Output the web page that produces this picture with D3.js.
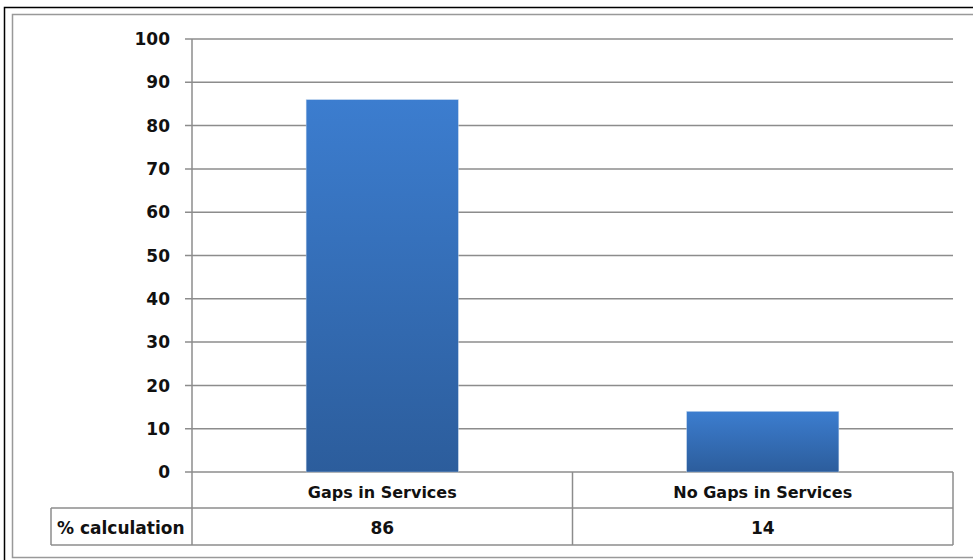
<!DOCTYPE html>
<html><head><meta charset="utf-8">
<script src="https://cdn.jsdelivr.net/npm/d3@7"></script>
<style>body{margin:0;background:#fff}</style>
</head><body>
<script>
const categories = ["Gaps in Services", "No Gaps in Services"];
const values = [86, 14];
const rowLabel = "% calculation";
const yTicks = [0,10,20,30,40,50,60,70,80,90,100];

(function(){
const W = 973, H = 560;
const svg = d3.select("body").append("svg").attr("width", W).attr("height", H);
const FONT = "DejaVu Sans, Verdana, sans-serif";

// outer borders (cropped at right edge as in reference)
svg.append("rect").attr("x",4.5).attr("y",7.5).attr("width",1000).attr("height",600).attr("fill","none").attr("stroke","#000").attr("stroke-width",1.5);
svg.append("rect").attr("x",12.5).attr("y",14.5).attr("width",1000).attr("height",543).attr("fill","none").attr("stroke","#999").attr("stroke-width",1.5);

const pLeft = 192, pRight = 953, pTop = 39, pBottom = 472;
const x = d3.scaleBand().domain(categories).range([pLeft, pRight]).padding(0);
const y = d3.scaleLinear().domain([0,100]).range([pBottom, pTop]);

const defs = svg.append("defs");
const g = defs.append("linearGradient").attr("id","bg").attr("x1",0).attr("y1",0).attr("x2",0).attr("y2",1);
g.append("stop").attr("offset","0%").attr("stop-color","#3c7dcf");
g.append("stop").attr("offset","100%").attr("stop-color","#2c5d9c");

// gridlines
svg.append("g").selectAll("line").data(yTicks).join("line")
  .attr("x1", pLeft-7).attr("x2", pRight).attr("y1", d=>y(d)).attr("y2", d=>y(d))
  .attr("stroke","#8c8c8c").attr("stroke-width",1.5);

// y axis line
svg.append("line").attr("x1",pLeft).attr("x2",pLeft).attr("y1",pTop).attr("y2",545).attr("stroke","#8c8c8c").attr("stroke-width",1.5);

// tick labels
svg.append("g").selectAll("text").data(yTicks).join("text")
  .attr("x", 170).attr("y", d=>y(d)).attr("dy","0.36em").attr("text-anchor","end")
  .attr("font-family",FONT).attr("font-weight","bold").attr("font-size",17)
  .attr("fill","#111").text(d=>d);

// bars
const bw = x.bandwidth()*0.4;
svg.append("g").selectAll("rect").data(categories).join("rect")
  .attr("x", d=>x(d)+x.bandwidth()/2-bw/2).attr("width", bw)
  .attr("y", (d,i)=>y(values[i])).attr("height", (d,i)=>y(0)-y(values[i]))
  .attr("fill","url(#bg)").attr("stroke","#c8daf0").attr("stroke-width",0.6).attr("stroke-opacity",0.7);

// data table
const r1 = pBottom, r2 = 508, r3 = 545, tl = 51;
const tbl = svg.append("g").attr("stroke","#8c8c8c").attr("stroke-width",1.5).attr("fill","none");
tbl.append("line").attr("x1",tl).attr("x2",pRight).attr("y1",r2).attr("y2",r2);
tbl.append("line").attr("x1",tl).attr("x2",pRight).attr("y1",r3).attr("y2",r3);
tbl.append("line").attr("x1",tl).attr("x2",tl).attr("y1",r2).attr("y2",r3);
tbl.append("line").attr("x1",pRight).attr("x2",pRight).attr("y1",r1).attr("y2",r3);
categories.forEach((c,i)=>{ if(i>0) tbl.append("line").attr("x1",x(c)).attr("x2",x(c)).attr("y1",r1).attr("y2",r3); });

svg.append("g").selectAll("text").data(categories).join("text")
  .attr("x", d=>x(d)+x.bandwidth()/2).attr("y", (r1+r2)/2+2).attr("dy","0.36em").attr("text-anchor","middle")
  .attr("font-family",FONT).attr("font-weight","bold").attr("font-size",16).attr("fill","#111").text(d=>d);
svg.append("g").selectAll("text").data(values).join("text")
  .attr("x", (d,i)=>x(categories[i])+x.bandwidth()/2).attr("y", (r2+r3)/2+1).attr("dy","0.36em").attr("text-anchor","middle")
  .attr("font-family",FONT).attr("font-weight","bold").attr("font-size",17).attr("fill","#111").text(d=>d);
svg.append("text").attr("x", tl+6).attr("y",(r2+r3)/2+1).attr("dy","0.36em")
  .attr("font-family",FONT).attr("font-weight","bold").attr("font-size",17).attr("fill","#111").text(rowLabel);
})();
</script>
</body></html>
